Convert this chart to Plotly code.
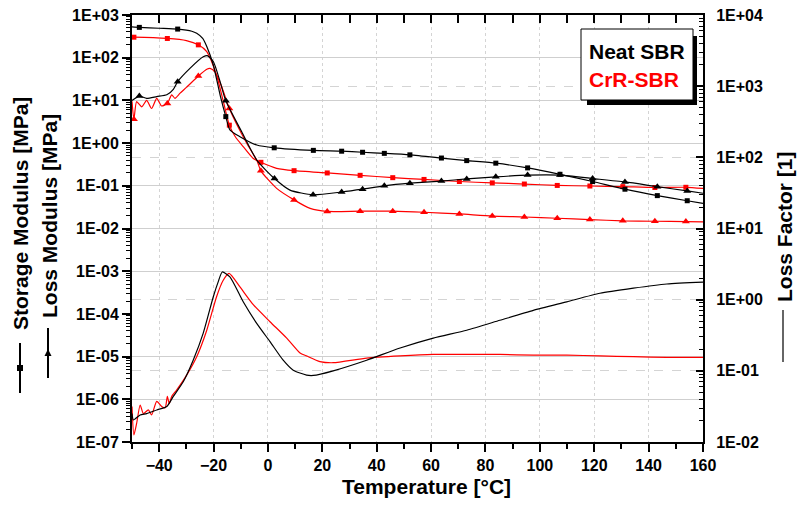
import plotly.graph_objects as go

# ---------------- data ----------------
# Storage modulus [MPa] - Neat SBR
sm_neat_T = [-50, -47.3, -40, -33.2, -28, -26.2, -24, -22.5, -20.1, -17.5, -15.5, -14, -10.3, -4.1,
             2.3, 16.7, 27.1, 34.8, 42.8, 52.2, 63.8, 73.1, 83.8, 95.5, 107.4, 119.4, 131.3, 143.2, 154.2, 160]
sm_neat = [525, 513, 490, 468, 417, 372, 282, 182, 67.6, 12.6, 4.17, 2.04, 1.41, 0.90,
           0.776, 0.676, 0.646, 0.610, 0.575, 0.531, 0.447, 0.389, 0.339, 0.263, 0.186, 0.126, 0.0832, 0.0589, 0.0447, 0.0389]
sm_neat_mk = [-47.3, -33.2, -15.5, 2.3, 16.7, 27.1, 34.8, 42.8, 52.2, 63.8, 73.1, 83.8, 95.5, 107.4, 119.4, 131.3, 143.2, 154.2]

# Storage modulus [MPa] - CrR-SBR
sm_crr_T = [-50, -49.3, -37, -30, -25.6, -22.5, -18.9, -16.5, -14.2, -12, -9.1, -5.4, -2.6, 3.2, 9.6,
            21.8, 33.9, 45.9, 57.4, 70.4, 82.5, 94.3, 106.4, 118.4, 130.5, 142.3, 153.7, 160]
sm_crr = [302, 302, 282, 251, 200, 138, 38.9, 10.0, 2.63, 1.41, 0.83, 0.437, 0.355, 0.257, 0.226,
          0.200, 0.176, 0.155, 0.141, 0.126, 0.117, 0.110, 0.102, 0.0989, 0.0955, 0.0912, 0.0923, 0.0871]
sm_crr_mk = [-49.3, -37, -25.6, -14.2, -2.6, 9.6, 21.8, 33.9, 45.9, 57.4, 70.4, 82.5, 94.3, 106.4, 118.4, 130.5, 142.3, 153.7]

# Loss modulus [MPa] - Neat SBR
lm_neat_T = [-50, -47.3, -44.6, -40.9, -37.2, -34.8, -33.2, -28.7, -23.8, -22.3, -20.1, -17.6, -15.5, -9.7, -4.1,
             2.4, 8.1, 16.6, 27.1, 34.8, 42.8, 52.2, 63.8, 73.1, 83.8, 95.5, 107.4, 119.4, 131.3, 143.2, 154.2, 160]
lm_neat = [10.0, 12.6, 11.2, 12.3, 13.5, 18.2, 27.5, 56.2, 105, 112, 81.3, 27.5, 9.77, 1.86, 0.398,
           0.148, 0.0794, 0.0617, 0.0716, 0.0832, 0.100, 0.115, 0.129, 0.145, 0.162, 0.178, 0.178, 0.148, 0.123, 0.0955, 0.0759, 0.0668]
lm_neat_mk = [-47.3, -33.2, -15.5, 2.4, 16.6, 27.1, 34.8, 42.8, 52.2, 63.8, 73.1, 83.8, 95.5, 107.4, 119.4, 131.3, 143.2, 154.2]

# Loss modulus [MPa] - CrR-SBR
lm_crr_T = [-50, -49.3, -48.3, -46.4, -44.6, -42.8, -40.9, -39.1, -37, -35.4, -34.2, -32.3, -29.9, -25.6, -22.5,
            -21.3, -19.5, -17, -14.2, -7.8, -4.1, -2.6, 3.2, 9.6, 15.5, 21.8, 33.9, 45.9, 57.4, 70.4, 82.5,
            94.3, 106.4, 118.4, 130.5, 142.3, 153.7, 160]
lm_crr = [9.55, 3.63, 9.33, 7.08, 10.0, 6.46, 11.2, 7.41, 8.51, 13.5, 11.2, 14.8, 20.4, 37.2, 53.7,
          56.2, 46.8, 20.9, 6.46, 0.99, 0.398, 0.224, 0.0871, 0.0468, 0.0295, 0.0251, 0.0254, 0.0254, 0.0240, 0.0219, 0.0195,
          0.0186, 0.0174, 0.0162, 0.0151, 0.0148, 0.0145, 0.0143]
lm_crr_mk = [-49.3, -37, -25.6, -14.2, -2.6, 9.6, 21.8, 33.9, 45.9, 57.4, 70.4, 82.5, 94.3, 106.4, 118.4, 130.5, 142.3, 153.7]

# Loss factor [1] - Neat SBR
lf_neat_T = [-50, -49.5, -47, -44.6, -40.9, -37.2, -34.8, -31.1, -27.5, -23.8, -20.1, -18.3, -16.8, -14, -9.1,
             -4.2, 0.75, 5.6, 9.3, 14.2, 16.7, 24, 36.3, 48.6, 60.8, 73.1, 85.3, 97.6, 109.9, 122.1, 134.4, 146.7, 160]
lf_neat = [0.0251, 0.0204, 0.0240, 0.0251, 0.0282, 0.0316, 0.0437, 0.0708, 0.141, 0.339, 1.10, 1.78, 2.45, 2.09, 0.933,
           0.468, 0.257, 0.141, 0.102, 0.0871, 0.0861, 0.100, 0.141, 0.209, 0.288, 0.372, 0.513, 0.708, 0.933, 1.23, 1.45, 1.66, 1.76]

# Loss factor [1] - CrR-SBR
lf_crr_T = [-50, -49.3, -48.3, -47, -45.8, -44, -42.8, -40.9, -39.1, -37.8, -37, -36.3, -35.4, -33.6, -29.9,
            -26.2, -22.5, -18.9, -16.5, -14.3, -10.3, -5.4, 0.75, 6.9, 11.8, 14.2, 19.1, 24, 36.3, 48.6, 60.8,
            73.1, 85.3, 97.6, 109.9, 122.1, 134.4, 146.7, 160]
lf_crr = [0.0316, 0.0126, 0.0182, 0.0331, 0.0251, 0.0282, 0.0240, 0.0372, 0.0316, 0.0302, 0.0437, 0.0347, 0.0437, 0.0537, 0.0871,
          0.158, 0.372, 1.10, 1.86, 2.34, 1.51, 0.851, 0.490, 0.288, 0.178, 0.162, 0.135, 0.130, 0.151, 0.162, 0.170,
          0.170, 0.170, 0.166, 0.166, 0.162, 0.158, 0.155, 0.155]

left_tickvals = [1e-7, 1e-6, 1e-5, 1e-4, 1e-3, 1e-2, 1e-1, 1e0, 1e1, 1e2, 1e3]
left_ticktext = ["1E-07", "1E-06", "1E-05", "1E-04", "1E-03", "1E-02", "1E-01", "1E+00", "1E+01", "1E+02", "1E+03"]
left_grid_vals = [1e-6, 1e-5, 1e-3, 1e-2, 1e-1, 1e0, 1e1, 1e2]
right_tickvals = [1e-2, 1e-1, 1e0, 1e1, 1e2, 1e3, 1e4]
right_ticktext = ["1E-02", "1E-01", "1E+00", "1E+01", "1E+02", "1E+03", "1E+04"]
series_names = ["Neat SBR", "CrR-SBR"]

# ---------------- figure ----------------
BLACK = "#000000"
RED = "#ff0000"
FONT = "Liberation Sans"
W, H = 801, 508
L, R, T, B = 132, 98, 15, 66


def pxx(x):
    return (x - L) / (W - L - R)


def pxy(y):
    return (H - B - y) / (H - T - B)


fig = go.Figure()


def add_curve(xs, ys, color, yaxis="y", mk=None, symbol=None, size=5):
    fig.add_trace(go.Scatter(x=xs, y=ys, mode="lines", yaxis=yaxis,
                             line=dict(color=color, width=1.2, shape="spline", smoothing=0.6),
                             showlegend=False, hoverinfo="skip"))
    if mk is not None:
        lut = dict(zip(xs, ys))
        fig.add_trace(go.Scatter(x=mk, y=[lut[t] for t in mk], mode="markers", yaxis=yaxis,
                                 marker=dict(color=color, symbol=symbol, size=size, line=dict(width=0)),
                                 showlegend=False, hoverinfo="skip"))


# dummy traces so helper axes render
fig.add_trace(go.Scatter(x=[None], y=[None], xaxis="x2", yaxis="y", showlegend=False, hoverinfo="skip"))
fig.add_trace(go.Scatter(x=[None], y=[None], xaxis="x", yaxis="y3", showlegend=False, hoverinfo="skip"))

add_curve(lf_crr_T, lf_crr, RED, yaxis="y2")
add_curve(lf_neat_T, lf_neat, BLACK, yaxis="y2")
add_curve(sm_crr_T, sm_crr, RED, mk=sm_crr_mk, symbol="square", size=5)
add_curve(lm_crr_T, lm_crr, RED, mk=lm_crr_mk, symbol="triangle-up", size=7)
add_curve(sm_neat_T, sm_neat, BLACK, mk=sm_neat_mk, symbol="square", size=5)
add_curve(lm_neat_T, lm_neat, BLACK, mk=lm_neat_mk, symbol="triangle-up", size=7)

tickfont = dict(family=FONT, size=16, color=BLACK, weight="bold")

fig.update_layout(
    template="none",
    width=W, height=H,
    margin=dict(l=L, r=R, t=T, b=B, autoexpand=False),
    paper_bgcolor="white", plot_bgcolor="white",
    showlegend=False,
    xaxis=dict(range=[-50, 160], tick0=0, dtick=20, ticks="outside", ticklen=8, tickwidth=1.5,
               tickcolor=BLACK, showline=True, linecolor=BLACK, linewidth=2, automargin=False,
               showgrid=True, gridcolor="#d4d4d4", griddash="dot", gridwidth=1,
               zeroline=False, tickfont=tickfont,
               minor=dict(ticks="outside", ticklen=5, tickwidth=1.5, tickcolor=BLACK, dtick=10, showgrid=False)),
    xaxis2=dict(range=[-50, 160], overlaying="x", side="top", anchor="y", tick0=0, dtick=10,
                ticks="inside", ticklen=8, tickwidth=1.5, tickcolor=BLACK, showticklabels=False,
                automargin=False,
                showline=True, linecolor=BLACK, linewidth=2, showgrid=False, zeroline=False),
    yaxis=dict(type="log", range=[-7, 3], tickvals=left_tickvals, ticktext=left_ticktext,
               ticks="outside", ticklen=8, tickwidth=1.5, tickcolor=BLACK, automargin=False,
               showline=True, linecolor=BLACK, linewidth=2, showgrid=False, zeroline=False,
               tickfont=tickfont,
               minor=dict(ticks="outside", ticklen=4, tickwidth=1, tickcolor=BLACK, dtick="D1", showgrid=False)),
    yaxis3=dict(type="log", range=[-7, 3], overlaying="y", side="left", tickvals=left_grid_vals,
                showticklabels=False, ticks="", showline=False, showgrid=True, automargin=False,
                gridcolor="#cfcfcf", gridwidth=1, zeroline=False),
    yaxis2=dict(type="log", range=[-2, 4], overlaying="y", side="right", tickvals=right_tickvals,
                ticktext=right_ticktext, ticks="inside", ticklen=7, tickwidth=1.5, tickcolor=BLACK,
                showline=True, linecolor=BLACK, linewidth=2, showgrid=True, gridcolor="#d4d4d4",
                griddash="dash", gridwidth=1, zeroline=False, tickfont=tickfont, ticklabelstandoff=8,
                automargin=False,
                minor=dict(ticks="inside", ticklen=4, tickwidth=1, tickcolor=BLACK, dtick="D1", showgrid=False)),
)

title_font = dict(family=FONT, size=21, color=BLACK, weight="bold")
ann = []
ann.append(dict(text="Temperature [°C]", x=pxx(426.5), y=pxy(486), xref="paper", yref="paper",
                showarrow=False, xanchor="center", yanchor="middle", font=title_font))
ann.append(dict(text="Storage Modulus [MPa]", x=pxx(21), y=pxy(214), xref="paper", yref="paper",
                showarrow=False, textangle=-90, xanchor="center", yanchor="middle", font=title_font))
ann.append(dict(text="Loss Modulus [MPa]", x=pxx(49), y=pxy(216), xref="paper", yref="paper",
                showarrow=False, textangle=-90, xanchor="center", yanchor="middle", font=title_font))
ann.append(dict(text="Loss Factor [1]", x=pxx(784), y=pxy(227), xref="paper", yref="paper",
                showarrow=False, textangle=-90, xanchor="center", yanchor="middle", font=title_font))
ann.append(dict(text=series_names[0], x=pxx(587), y=pxy(52), xref="paper", yref="paper",
                showarrow=False, xanchor="left", yanchor="middle",
                font=dict(family=FONT, size=21, color=BLACK, weight="bold")))
ann.append(dict(text=series_names[1], x=pxx(587), y=pxy(80), xref="paper", yref="paper",
                showarrow=False, xanchor="left", yanchor="middle",
                font=dict(family=FONT, size=21, color=RED, weight="bold")))

shapes = []
# legend shadow + box
shapes.append(dict(type="rect", xref="paper", yref="paper", x0=pxx(587), x1=pxx(697), y0=pxy(105), y1=pxy(36),
                   fillcolor=BLACK, line=dict(width=0), layer="above"))
shapes.append(dict(type="rect", xref="paper", yref="paper", x0=pxx(581), x1=pxx(693), y0=pxy(100), y1=pxy(29),
                   fillcolor="white", line=dict(color=BLACK, width=1), layer="above"))
# axis-title glyphs
shapes.append(dict(type="line", xref="paper", yref="paper", x0=pxx(20), x1=pxx(20), y0=pxy(343), y1=pxy(393),
                   line=dict(color=BLACK, width=2)))
shapes.append(dict(type="rect", xref="paper", yref="paper", x0=pxx(17), x1=pxx(23), y0=pxy(371), y1=pxy(365),
                   fillcolor=BLACK, line=dict(width=0)))
shapes.append(dict(type="line", xref="paper", yref="paper", x0=pxx(48), x1=pxx(48), y0=pxy(328), y1=pxy(378),
                   line=dict(color=BLACK, width=2)))
tri = "M {a},{b} L {c},{d} L {e},{f} Z".format(a=pxx(48), b=pxy(349), c=pxx(44.5), d=pxy(356), e=pxx(51.5), f=pxy(356))
shapes.append(dict(type="path", xref="paper", yref="paper", path=tri, fillcolor=BLACK, line=dict(width=0)))
shapes.append(dict(type="line", xref="paper", yref="paper", x0=pxx(783), x1=pxx(783), y0=pxy(310), y1=pxy(362),
                   line=dict(color="#666666", width=2)))

fig.update_layout(annotations=ann, shapes=shapes)
fig.write_html("out.html", config={"displayModeBar": False},
               post_script="document.body.style.margin='0px';document.body.style.padding='0px';"
                           "document.body.style.overflow='hidden';")
